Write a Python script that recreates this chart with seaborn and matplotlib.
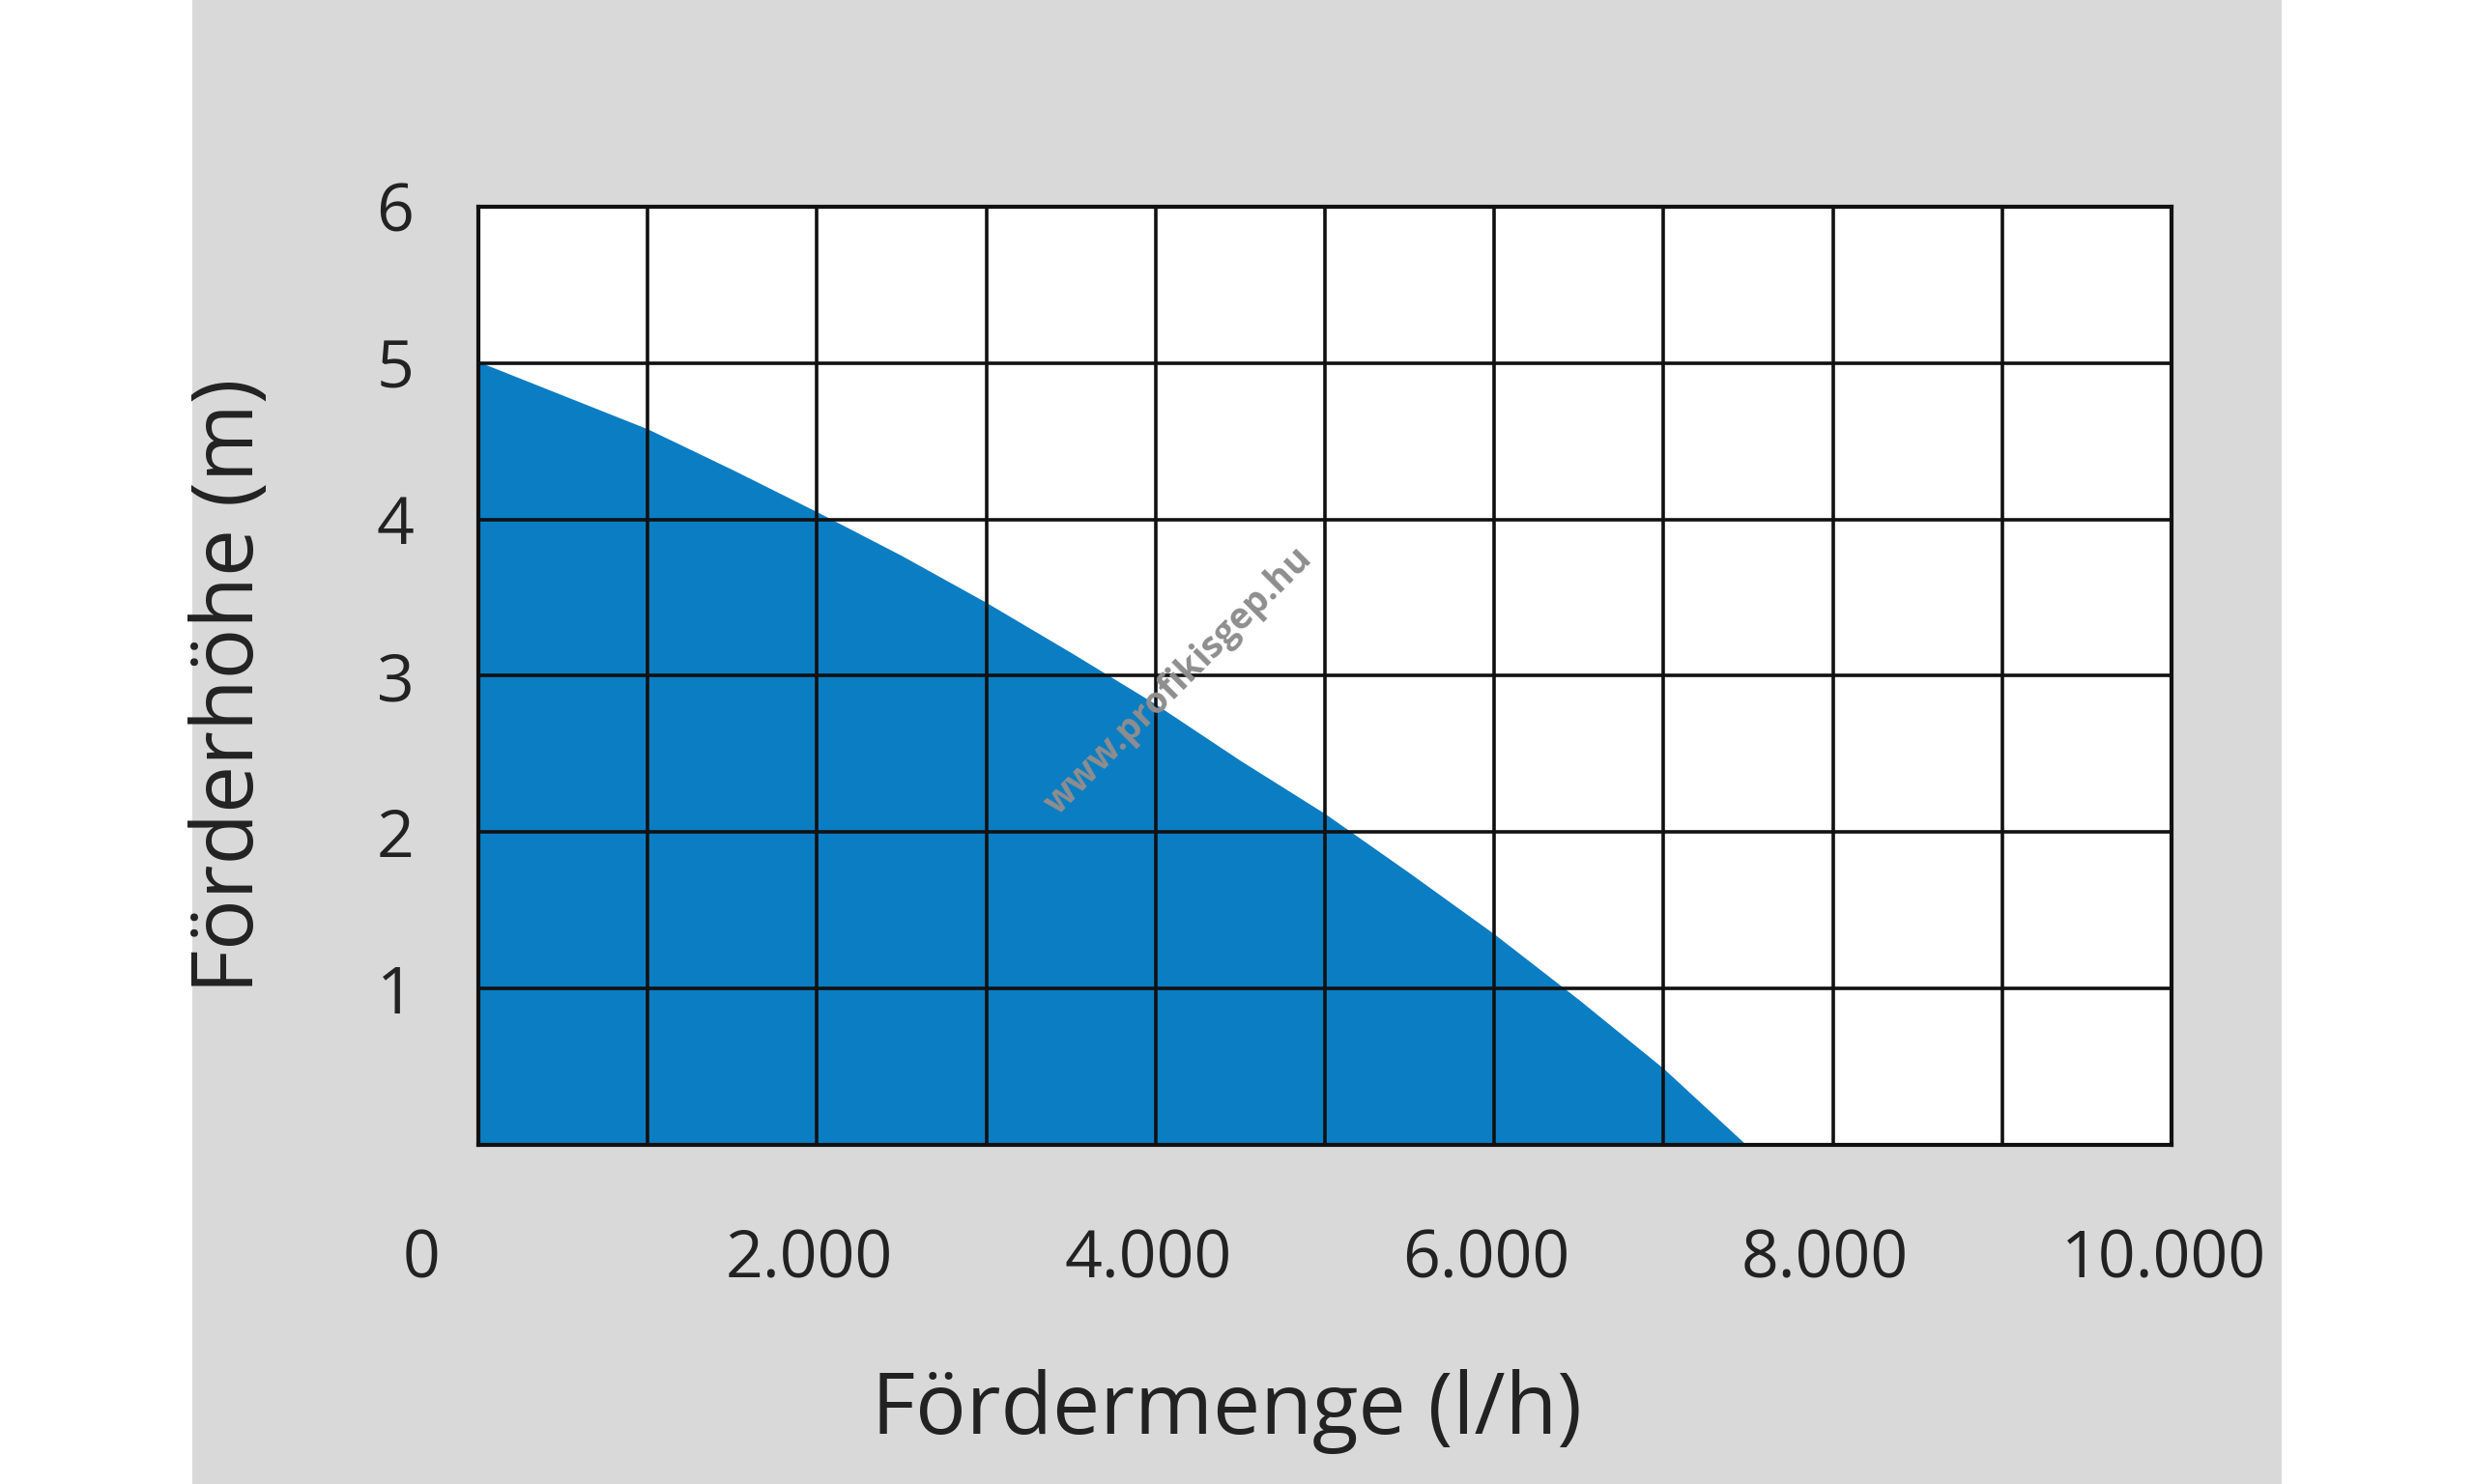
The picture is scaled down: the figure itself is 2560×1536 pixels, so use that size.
import matplotlib
matplotlib.use("Agg")
import matplotlib.pyplot as plt
import matplotlib.transforms as mtransforms
from matplotlib.patches import Rectangle
import seaborn as sns
import pandas as pd

# Data
flow_lh = [0, 1000, 1500, 2000, 2500, 3000, 3500, 4000, 4500, 5000, 5500, 6000, 6500, 7000, 7480]
head_m = [5.0, 4.57, 4.31, 4.04, 3.76, 3.46, 3.14, 2.81, 2.45, 2.11, 1.73, 1.34, 0.92, 0.48, 0.0]
x_ticks = [0, 1000, 2000, 3000, 4000, 5000, 6000, 7000, 8000, 9000, 10000]
x_tick_labels = ["0", "", "2.000", "", "4.000", "", "6.000", "", "8.000", "", "10.000"]
y_ticks = [0, 1, 2, 3, 4, 5, 6]
y_tick_labels = ["", "1", "2", "3", "4", "5", "6"]
x_label = "Fördermenge (l/h)"
y_label = "Förderhöhe (m)"
watermark = "www.profikisgep.hu"

df = pd.DataFrame({"flow": flow_lh, "head": head_m})

sns.set_theme(style="white")
plt.rcParams["font.family"] = ["Open Sans", "DejaVu Sans"]

fig = plt.figure(figsize=(25.6, 15.36), dpi=100)
fig.patch.set_facecolor("white")
fig.add_artist(Rectangle((0.0777, 0.0), 0.9223 - 0.0777, 1.0,
                         transform=fig.transFigure, facecolor="#d9d9d9",
                         edgecolor="none", zorder=-10))

ax = fig.add_axes([0.1934, 0.2285, 0.8777 - 0.1934, 0.8607 - 0.2285])
ax.set_facecolor("white")

blue = "#0b7dc3"
ax.fill_between(df["flow"], df["head"], 0, color=blue, linewidth=0, zorder=1)
sns.lineplot(data=df, x="flow", y="head", ax=ax, color=blue, linewidth=1.5, zorder=1.2)

ax.set_xlim(0, 10000)
ax.set_ylim(0, 6)
ax.set_xticks(x_ticks)
ax.set_xticklabels(x_tick_labels)
ax.set_yticks(y_ticks)
ax.set_yticklabels(y_tick_labels)

ax.set_axisbelow(False)
ax.grid(True, color="#111111", linewidth=2.6)
for s in ax.spines.values():
    s.set_visible(True)
    s.set_color("#111111")
    s.set_linewidth(3)
    s.set_zorder(3)

ax.tick_params(axis="both", length=0, labelsize=49, colors="#222222")
ax.tick_params(axis="x", pad=62)
ax.tick_params(axis="y", pad=48)

# small horizontal shifts of the x tick labels, "0" sits left of the axis
for i, lab in enumerate(ax.get_xticklabels()):
    dx = -59 if i == 0 else -8
    off = mtransforms.ScaledTranslation(dx / 100, 0, fig.dpi_scale_trans)
    lab.set_transform(lab.get_transform() + off)

ax.set_xlabel(x_label, fontsize=63, color="#222222", va="center", ha="center")
ax.xaxis.set_label_coords(0.442, -0.284)
ax.set_ylabel(y_label, fontsize=63, color="#222222", va="center", ha="center")
ax.yaxis.set_label_coords(-0.146, 0.489)

fig.text(0.4766, 0.541, watermark, rotation=45, fontsize=27, fontweight="bold",
         color="#8e8e8e", ha="center", va="center", zorder=10)

fig.savefig("out.png", dpi=100, facecolor=fig.get_facecolor())
